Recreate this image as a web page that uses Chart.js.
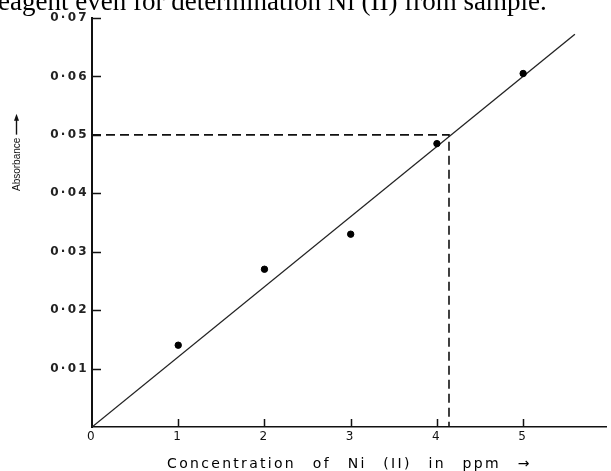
<!DOCTYPE html>
<html lang="en">
<head>
<meta charset="UTF-8">
<title>Calibration curve Ni(II)</title>
<script src="https://cdn.jsdelivr.net/npm/chart.js"></script>
<style>
  html, body { margin: 0; padding: 0; background: #fff; }
  #wrap { width: 611px; height: 471px; position: relative; }
</style>
</head>
<body>
<div id="wrap"><canvas id="calib"></canvas></div>
<script>
// measured points (ppm, absorbance)
const concentration = [1, 2, 3, 4, 5];
const absorbance = [0.014, 0.027, 0.033, 0.0485, 0.0605];

// straight calibration line drawn through the points
const fitConc = [0, 5.6];
const fitAbs = [0, 0.0672];

// sample reading: absorbance 0.05 read across to the line and down
const sampleAbs = 0.05;
const sampleConc = 4.14;

const xTicks = [0, 1, 2, 3, 4, 5];
const xTickLabels = ['0', '1', '2', '3', '4', '5'];
const yTicks = [0, 0.01, 0.02, 0.03, 0.04, 0.05, 0.06, 0.07];
const yTickLabels = ['', '0·01', '0·02', '0·03', '0·04', '0·05', '0·06', '0·07'];

const captionText = 'eagent even for determination Ni (II) from sample.';
const yTitle = 'Absorbance';
const xTitle = 'Concentration of Ni (II) in ppm →';

const ink = '#111';

// wide lettering like the original stencil text
const spacingPlugin = {
    id: 'spacing',
    beforeDraw(chart) {
        chart.ctx.letterSpacing = '2.3px';
        chart.ctx.wordSpacing = '10px';
    }
};

// tick marks point into the plot, plus caption and y title
const extrasPlugin = {
    id: 'extras',
    afterDraw(chart) {
        const { ctx, chartArea } = chart;
        const xs = chart.scales.x, ys = chart.scales.y;
        ctx.save();
        ctx.letterSpacing = '0px';
        ctx.wordSpacing = '0px';
        ctx.strokeStyle = ink;
        ctx.lineWidth = 1.5;
        ctx.beginPath();
        xTicks.forEach(v => {
            if (v === 0) return;
            const px = Math.round(xs.getPixelForValue(v)) + 0.5;
            ctx.moveTo(px, chartArea.bottom);
            ctx.lineTo(px, chartArea.bottom - 8);
        });
        yTicks.forEach(v => {
            if (v === 0) return;
            const py = Math.round(ys.getPixelForValue(v)) + 0.5;
            ctx.moveTo(chartArea.left, py);
            ctx.lineTo(chartArea.left + 9, py);
        });
        ctx.stroke();

        // cut-off line of text above the figure
        ctx.fillStyle = '#000';
        ctx.font = '27px "Liberation Serif"';
        ctx.textBaseline = 'alphabetic';
        ctx.textAlign = 'left';
        ctx.fillText(captionText, -2, 10);

        // rotated y title with arrow
        ctx.translate(20, 191);
        ctx.rotate(-Math.PI / 2);
        ctx.font = '10px "Liberation Sans"';
        ctx.fillStyle = ink;
        ctx.textBaseline = 'alphabetic';
        ctx.fillText(yTitle, 0, 0);
        const w = ctx.measureText(yTitle).width;
        ctx.beginPath();
        ctx.lineWidth = 1.4;
        ctx.moveTo(w + 3, -3.5);
        ctx.lineTo(w + 20, -3.5);
        ctx.stroke();
        ctx.beginPath();
        ctx.moveTo(w + 24, -3.5);
        ctx.lineTo(w + 17, -6);
        ctx.lineTo(w + 17, -1);
        ctx.closePath();
        ctx.fill();
        ctx.restore();
    }
};

new Chart(document.getElementById('calib'), {
    type: 'scatter',
    data: {
        datasets: [
            {
                label: 'measured',
                data: concentration.map((c, i) => ({ x: c, y: absorbance[i] })),
                backgroundColor: '#000',
                borderColor: '#000',
                pointRadius: 3.2,
                pointHoverRadius: 3.2,
                showLine: false
            },
            {
                label: 'calibration line',
                data: fitConc.map((c, i) => ({ x: c, y: fitAbs[i] })),
                showLine: true,
                borderColor: '#222',
                borderWidth: 1.3,
                pointRadius: 0
            },
            {
                label: 'sample',
                data: [
                    { x: 0, y: sampleAbs },
                    { x: sampleConc, y: sampleAbs },
                    { x: sampleConc, y: 0 }
                ],
                showLine: true,
                borderColor: '#111',
                borderWidth: 1.6,
                borderDash: [9, 5],
                pointRadius: 0
            }
        ]
    },
    options: {
        responsive: true,
        maintainAspectRatio: false,
        animation: false,
        layout: { padding: { top: 18, right: 0, left: 0, bottom: 0 } },
        plugins: {
            legend: { display: false },
            tooltip: { enabled: false }
        },
        scales: {
            x: {
                type: 'linear',
                min: 0,
                max: 5.97,
                afterBuildTicks: s => { s.ticks = xTicks.map(v => ({ value: v })); },
                afterFit: s => { s.height = 44; },
                grid: { display: false, drawTicks: false },
                border: { display: true, color: ink, width: 1.5 },
                ticks: {
                    padding: 3,
                    color: '#111',
                    font: { family: 'DejaVu Sans', size: 12 },
                    maxRotation: 0,
                    callback: (v, i) => xTickLabels[i]
                },
                title: {
                    display: true,
                    text: xTitle,
                    color: '#000',
                    font: { family: 'DejaVu Sans', size: 14, lineHeight: 1 },
                    padding: { top: 0, bottom: 0 }
                }
            },
            y: {
                type: 'linear',
                min: 0,
                max: 0.07,
                afterBuildTicks: s => { s.ticks = yTicks.map(v => ({ value: v })); },
                afterFit: s => { s.width = 92; },
                grid: { display: false, drawTicks: false },
                border: { display: true, color: ink, width: 2 },
                ticks: {
                    padding: 3,
                    color: '#222',
                    font: { family: 'DejaVu Sans', size: 12, weight: 'bold' },
                    callback: (v, i) => yTickLabels[i]
                }
            }
        }
    },
    plugins: [spacingPlugin, extrasPlugin]
});
</script>
</body>
</html>
